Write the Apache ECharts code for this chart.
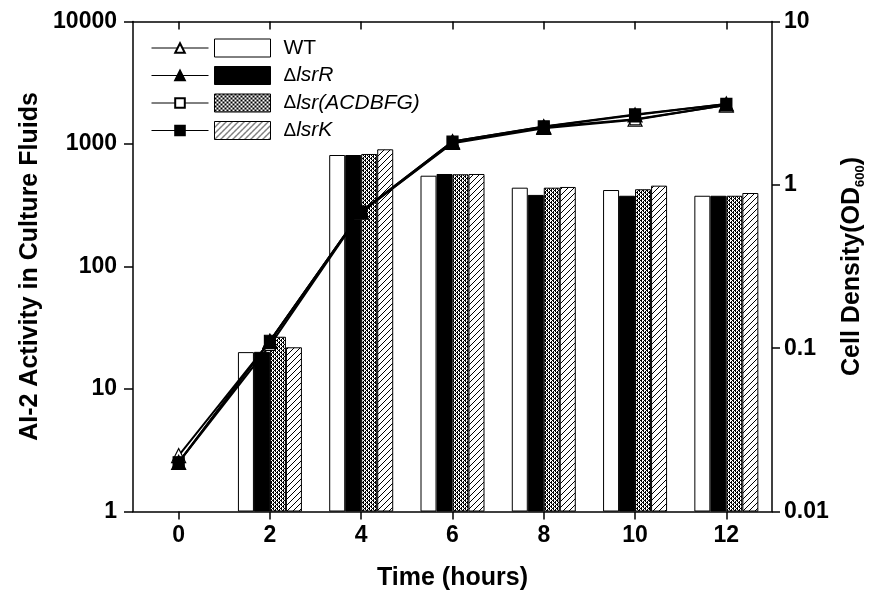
<!DOCTYPE html>
<html><head><meta charset="utf-8">
<script src="https://cdn.jsdelivr.net/npm/echarts@6/dist/echarts.min.js"></script>
<style>html,body{margin:0;padding:0;background:#fff}#c{width:886px;height:604px}</style>
</head><body><div id="c"></div>
<script>
// ---- data ----
const timeTicks = [0, 2, 4, 6, 8, 10, 12];
const barTimes = [2, 4, 6, 8, 10, 12];
const strainNames = ['WT', 'ΔlsrR', 'Δlsr(ACDBFG)', 'ΔlsrK'];
// AI-2 activity (left axis, log)
const ai2WT = [20.0, 813, 551, 440, 421, 378];
const ai2LsrR = [20.1, 813, 569, 384, 378, 378];
const ai2LsrACDBFG = [26.7, 829, 566, 440, 427, 378];
const ai2LsrK = [21.9, 905, 569, 446, 457, 398];
// Cell density OD600 (right axis, log)
const odWT = [0.022, 0.110, 0.68, 1.82, 2.25, 2.52, 3.08];
const odLsrR = [0.020, 0.110, 0.686, 1.84, 2.27, 2.68, 3.13];
const odLsrACDBFG = [0.020, 0.104, 0.68, 1.80, 2.22, 2.50, 3.08];
const odLsrK = [0.020, 0.111, 0.686, 1.84, 2.28, 2.70, 3.13];
// tick labels
const leftTickLabels = ['1', '10', '100', '1000', '10000'];
const rightTickLabels = ['0.01', '0.1', '1', '10'];

const FONT = 'Liberation Sans, Arial, sans-serif';

function makePattern(size, isOn) {
  const c = document.createElement('canvas');
  c.width = size; c.height = size;
  const ctx = c.getContext('2d');
  const img = ctx.createImageData(size, size);
  for (let y = 0; y < size; y++) for (let x = 0; x < size; x++) {
    const v = isOn(x, y) ? 0 : 255;
    const k = (y * size + x) * 4;
    img.data[k] = v; img.data[k + 1] = v; img.data[k + 2] = v; img.data[k + 3] = 255;
  }
  ctx.putImageData(img, 0, 0);
  return c;
}
const crossPat = makePattern(4, (x, y) => {
  const a = (x + y) % 4, b = ((x - y) % 4 + 4) % 4;
  return a === 0 || b === 0 || (a === 1 && b === 1);
});
const hatchPat = makePattern(6, (x, y) => (x + y) % 6 === 5);

const barFills = ['#ffffff', '#000000', { image: crossPat, repeat: 'repeat' }, { image: hatchPat, repeat: 'repeat' }];
const barData = [ai2WT, ai2LsrR, ai2LsrACDBFG, ai2LsrK];
const odData = [odWT, odLsrR, odLsrACDBFG, odLsrK];
const symbols = ['triangle', 'triangle', 'rect', 'rect'];
const symbolFill = ['#ffffff', '#000000', '#ffffff', '#000000'];
const symbolSizes = [14, 14, 10, 11];
const lineOrder = [0, 2, 1, 3];

const series = [];
strainNames.forEach((n, i) => {
  series.push({
    type: 'bar', name: n, xAxisIndex: 0, yAxisIndex: 0,
    data: barTimes.map((t, j) => [t, barData[i][j]]),
    barWidth: 16, barGap: '0%',
    itemStyle: { color: barFills[i], borderColor: '#000', borderWidth: 1 },
    emphasis: { disabled: true }, z: 2
  });
});
lineOrder.forEach(i => {
  series.push({
    type: 'line', name: strainNames[i] + ' OD', xAxisIndex: 0, yAxisIndex: 1,
    data: timeTicks.map((t, j) => [t, odData[i][j]]),
    symbol: symbols[i], symbolSize: symbolSizes[i],
    itemStyle: { color: symbolFill[i], borderColor: '#000', borderWidth: 1.2 },
    lineStyle: { color: '#000', width: 2 },
    emphasis: { disabled: true }, z: 5
  });
});

const legendRich = {
  d: { fontSize: 19, fontFamily: FONT, color: '#000' },
  i: { fontSize: 21, fontStyle: 'italic', fontFamily: FONT, color: '#000' },
  n: { fontSize: 21, fontFamily: FONT, color: '#000' }
};
function legendText(name) {
  if (name.charAt(0) === 'Δ') return '{d|Δ}{i|' + name.slice(1) + '}';
  return '{n|' + name + '}';
}

const axisLineStyle = { color: '#000', width: 1.5 };
const chart = echarts.init(document.getElementById('c'), null, { renderer: 'canvas' });
chart.setOption({
  animation: false,
  backgroundColor: '#fff',
  grid: { left: 133, top: 21.5, width: 639, height: 490 },
  legend: [
    {
      data: strainNames.map(n => n + ' OD'), orient: 'vertical', left: 151, top: 37.5, padding: 0,
      itemWidth: 57, itemHeight: 12, itemGap: 6.5, selectedMode: false,
      formatter: () => ' ', textStyle: { fontSize: 21, fontFamily: FONT },
      lineStyle: { width: 1, color: '#000' }
    },
    {
      data: strainNames, orient: 'vertical', left: 214, top: 37.5, padding: 0, icon: 'rect',
      itemWidth: 56, itemHeight: 18, itemGap: 6.5, selectedMode: false,
      formatter: legendText,
      itemStyle: { borderColor: '#000', borderWidth: 1 },
      textStyle: { fontSize: 21, fontFamily: FONT, color: '#000', padding: [0, 0, 0, 8], rich: legendRich }
    }
  ],
  xAxis: [
    {
      type: 'value', position: 'bottom', min: -1, max: 13,
      axisLine: { onZero: false, lineStyle: axisLineStyle },
      axisTick: { inside: false, length: 8, lineStyle: axisLineStyle, customValues: timeTicks },
      axisLabel: { customValues: timeTicks, fontSize: 23, fontWeight: 'bold', fontFamily: FONT, color: '#000', margin: 13 },
      splitLine: { show: false },
      name: 'Time (hours)', nameLocation: 'middle', nameGap: 54,
      nameTextStyle: { fontSize: 25, fontWeight: 'bold', fontFamily: FONT, color: '#000' }
    },
    {
      type: 'value', position: 'top', min: -1, max: 13,
      axisLine: { onZero: false, lineStyle: axisLineStyle },
      axisTick: { inside: true, length: 8, lineStyle: axisLineStyle, customValues: timeTicks },
      axisLabel: { show: false },
      splitLine: { show: false }
    }
  ],
  yAxis: [
    {
      type: 'log', logBase: 10, min: 1, max: 10000, position: 'left',
      axisLine: { show: true, onZero: false, lineStyle: axisLineStyle },
      axisTick: { show: true, inside: false, length: 9, lineStyle: axisLineStyle },
      axisLabel: {
        fontSize: 23, fontWeight: 'bold', fontFamily: FONT, color: '#000', margin: 16,
        formatter: v => leftTickLabels[Math.round(Math.log10(v))]
      },
      splitLine: { show: false },
      name: 'AI-2 Activity in Culture Fluids', nameLocation: 'middle', nameGap: 74, nameRotate: 90,
      nameTextStyle: { fontSize: 25, fontWeight: 'bold', fontFamily: FONT, color: '#000' }
    },
    {
      type: 'log', logBase: 10, min: 0.01, max: 10, position: 'right',
      axisLine: { show: true, onZero: false, lineStyle: axisLineStyle },
      axisTick: { show: true, inside: false, length: 8, lineStyle: axisLineStyle },
      axisLabel: {
        fontSize: 23, fontWeight: 'bold', fontFamily: FONT, color: '#000', margin: 12,
        formatter: v => rightTickLabels[Math.round(Math.log10(v)) + 2]
      },
      splitLine: { show: false },
      name: '{m|Cell Density(OD}{s|600}{m|)}', nameLocation: 'middle', nameGap: 64, nameRotate: 90,
      nameTextStyle: {
        fontSize: 25, fontWeight: 'bold', fontFamily: FONT, color: '#000',
        rich: {
          m: { fontSize: 25, fontWeight: 'bold', fontFamily: FONT, color: '#000', lineHeight: 30, verticalAlign: 'middle' },
          s: { fontSize: 13, fontWeight: 'bold', fontFamily: FONT, color: '#000', lineHeight: 30, verticalAlign: 'bottom' }
        }
      }
    }
  ],
  series: series
});
</script>
</body></html>
